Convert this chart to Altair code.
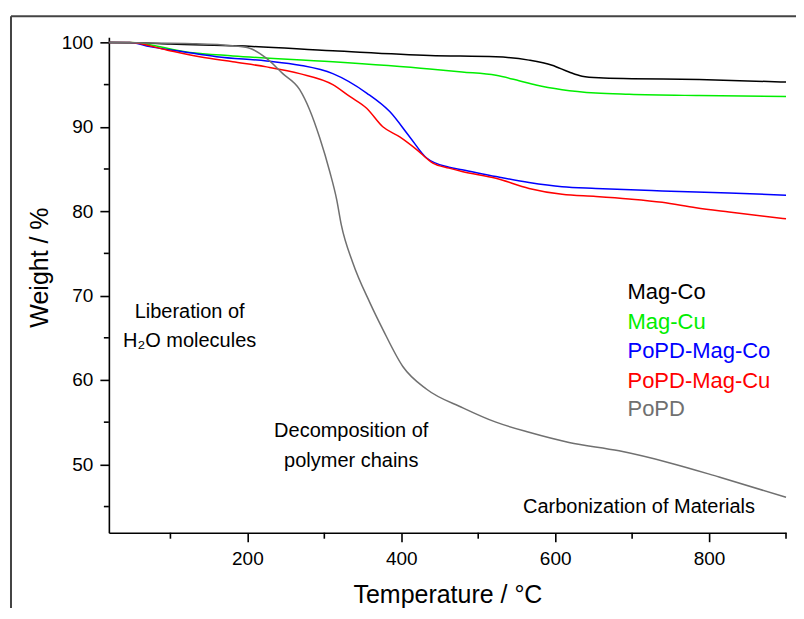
import altair as alt
import pandas as pd

# ---- data ----
series_names = ["Mag-Co", "Mag-Cu", "PoPD-Mag-Co", "PoPD-Mag-Cu", "PoPD"]
series_colors = ["#000000", "#00ee00", "#0000ff", "#ff0000", "#707070"]

magco_T = [20, 60, 100, 186, 311, 437, 523, 566, 596, 618, 635, 657, 700, 787, 900]
magco_W = [100, 99.95, 99.8, 99.6, 99.0, 98.45, 98.3, 97.9, 97.3, 96.5, 96.0, 95.8, 95.7, 95.6, 95.3]

magcu_T = [20, 47, 125, 181, 311, 437, 479, 523, 553, 575, 609, 653, 696, 787, 900]
magcu_W = [100, 100, 98.8, 98.4, 97.7, 96.85, 96.5, 96.1, 95.46, 94.95, 94.4, 94.0, 93.85, 93.7, 93.6]

popd_magco_T = [20, 47, 73, 116, 160, 225, 268, 311, 355, 385, 411, 433, 462, 479, 523, 566, 609, 653, 739, 826, 900]
popd_magco_W = [100, 100, 99.5, 98.9, 98.3, 97.8, 97.3, 96.3, 94.0, 91.8, 88.8, 86.3, 85.2, 84.9, 84.1, 83.4, 82.9, 82.7, 82.4, 82.15, 81.9]

popd_magcu_T = [20, 47, 95, 138, 181, 225, 268, 311, 333, 355, 376, 398, 420, 441, 462, 479, 523, 566, 609, 653, 696, 739, 783, 826, 900]
popd_magcu_W = [100, 100, 99.1, 98.3, 97.7, 97.1, 96.3, 95.0, 93.6, 92.2, 90.0, 88.8, 87.3, 85.7, 85.1, 84.7, 83.9, 82.7, 82.0, 81.75, 81.45, 81.05, 80.4, 79.9, 79.1]

popd_T = [20, 129, 181, 203, 225, 246, 268, 281, 294, 307, 316, 322, 337, 359, 376, 402, 433, 480, 523, 566, 618, 683, 748, 813, 900]
popd_W = [100, 99.85, 99.6, 99.3, 98.1, 96.3, 94.4, 92.0, 88.7, 84.7, 81.4, 78.4, 73.9, 69.2, 66.0, 61.6, 58.9, 56.7, 55.0, 53.8, 52.6, 51.6, 50.2, 48.5, 46.1]

x_major = [200, 400, 600, 800]
x_minor = [100, 300, 500, 700, 900]
y_major = [50, 60, 70, 80, 90, 100]
y_minor = [45, 55, 65, 75, 85, 95]

# legend labels (position in data units)
legend_T = [694, 694, 694, 694, 694]
legend_W = [70.4, 66.9, 63.4, 59.9, 56.5]

# annotations
annot_text = ["Liberation of", "H\u2082O molecules", "Decomposition of", "polymer chains",
              "Carbonization of Materials"]
annot_T = [125, 125, 335, 335, 709]
annot_W = [68.1, 64.6, 53.9, 50.4, 44.95]

# ---- build tables ----
rows = []
for name, Ts, Ws in zip(series_names,
                        [magco_T, magcu_T, popd_magco_T, popd_magcu_T, popd_T],
                        [magco_W, magcu_W, popd_magco_W, popd_magcu_W, popd_W]):
    for t, w in zip(Ts, Ws):
        rows.append({"series": name, "T": t, "W": w})
df = pd.DataFrame(rows)

df_leg = pd.DataFrame({"series": series_names, "T": legend_T, "W": legend_W})
df_ann = pd.DataFrame({"text": annot_text, "T": annot_T, "W": annot_W})
df_xminor = pd.DataFrame({"T": x_minor})
df_yminor = pd.DataFrame({"W": y_minor})
df_one = pd.DataFrame({"a": [0]})

FONT = "Liberation Sans"

xs = alt.Scale(domain=[20, 900], nice=False, zero=False)
ys = alt.Scale(domain=[41.9, 100.6], nice=False, zero=False)

xaxis = alt.Axis(values=x_major, title="Temperature / °C", grid=False,
                 domainColor="black", domainWidth=1.6, tickColor="black", tickWidth=1.6,
                 tickSize=9, labelFontSize=19, labelFont=FONT, labelColor="black",
                 labelPadding=8, titleFont=FONT, titleFontSize=25, titleFontWeight="normal",
                 titleColor="black", titleY=62, titleBaseline="middle")
yaxis = alt.Axis(values=y_major, title="Weight  / %", grid=False,
                 domainColor="black", domainWidth=1.6, tickColor="black", tickWidth=1.6,
                 tickSize=9, labelFontSize=19, labelFont=FONT, labelColor="black",
                 labelPadding=7, titleFont=FONT, titleFontSize=25, titleFontWeight="normal",
                 titleColor="black", titleX=-69, titleY=230, titleAngle=-90,
                 titleBaseline="middle", titleAlign="center")

color_scale = alt.Scale(domain=series_names, range=series_colors)

lines = alt.Chart(df).mark_line(strokeWidth=1.5, interpolate="monotone").encode(
    x=alt.X("T:Q", scale=xs, axis=xaxis),
    y=alt.Y("W:Q", scale=ys, axis=yaxis),
    color=alt.Color("series:N", scale=color_scale, legend=None),
)

xminor = alt.Chart(df_xminor).mark_rule(color="black", strokeWidth=1.6).encode(
    x=alt.X("T:Q", scale=xs, axis=xaxis),
    y=alt.value(496), y2=alt.value(502),
)
yminor = alt.Chart(df_yminor).mark_rule(color="black", strokeWidth=1.6).encode(
    y=alt.Y("W:Q", scale=ys, axis=yaxis),
    x=alt.value(0), x2=alt.value(-5),
)

legend_text = alt.Chart(df_leg).mark_text(align="left", baseline="middle", font=FONT,
                                          fontSize=22).encode(
    x=alt.X("T:Q", scale=xs, axis=xaxis),
    y=alt.Y("W:Q", scale=ys, axis=yaxis),
    text="series:N",
    color=alt.Color("series:N", scale=color_scale, legend=None),
)

annot = alt.Chart(df_ann).mark_text(align="center", baseline="middle", font=FONT,
                                    fontSize=20, color="black").encode(
    x=alt.X("T:Q", scale=xs, axis=xaxis),
    y=alt.Y("W:Q", scale=ys, axis=yaxis),
    text="text:N",
)

frame_left = alt.Chart(df_one).mark_rule(color="#444444", strokeWidth=2).encode(
    x=alt.value(-98), y=alt.value(-21), y2=alt.value(580))
frame_top = alt.Chart(df_one).mark_rule(color="#444444", strokeWidth=2).encode(
    y=alt.value(-21), x=alt.value(-98), x2=alt.value(720))

chart = alt.layer(frame_left, frame_top, lines, xminor, yminor, legend_text, annot).properties(
    width=678, height=496,
    autosize=alt.AutoSizeParams(type="none"),
    padding={"left": 101, "top": 29, "right": 10, "bottom": 75},
).configure_view(stroke=None)

chart.save("out.html", embed_options={"renderer": "svg", "actions": False})
